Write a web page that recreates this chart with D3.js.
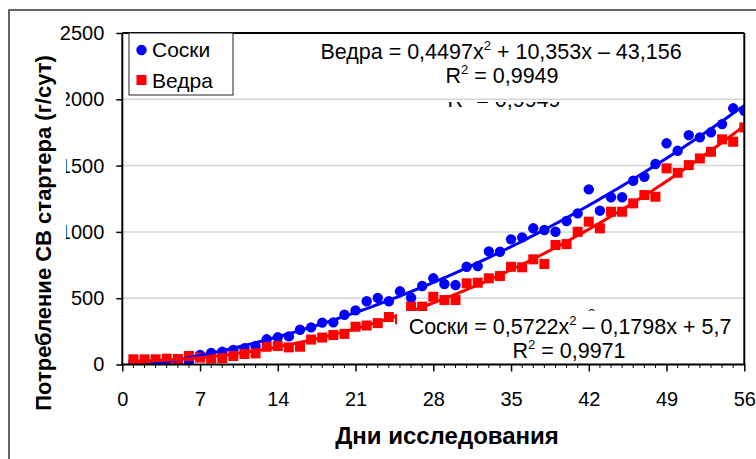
<!DOCTYPE html>
<html>
<head>
<meta charset="utf-8">
<script src="https://cdn.jsdelivr.net/npm/d3@7"></script>
<style>
    body { margin: 0; background: #fff; }
    svg text { font-family: "Liberation Sans", Arial, sans-serif; fill: #000; }
</style>
</head>
<body>
<div id="chart"></div>
<script>
// дни исследования
const days = [1, 2, 3, 4, 5, 6, 7, 8, 9, 10, 11, 12, 13, 14, 15, 16, 17, 18, 19, 20,
    21, 22, 23, 24, 25, 26, 27, 28, 29, 30, 31, 32, 33, 34, 35, 36, 37, 38, 39, 40,
    41, 42, 43, 44, 45, 46, 47, 48, 49, 50, 51, 52, 53, 54, 55, 56];

const soski = [20, 18, 15, 18, 20, 15, 72, 88, 97, 109, 122, 139, 190, 205, 212, 262, 280, 316, 318, 375,
    408, 477, 502, 477, 552, 503, 592, 650, 607, 599, 737, 742, 853, 850, 944, 959, 1027, 1014, 1001, 1082,
    1140, 1321, 1160, 1261, 1261, 1386, 1416, 1512, 1668, 1612, 1730, 1713, 1751, 1813, 1932, 1913];

const vedra = [39, 39, 39, 44, 42, 64, 52, 45, 48, 64, 79, 84, 134, 139, 129, 134, 188, 203, 222, 231,
    285, 294, 312, 358, 341, 436, 436, 511, 486, 486, 612, 617, 650, 667, 737, 733, 793, 758, 901, 908,
    1001, 1077, 1027, 1152, 1152, 1215, 1278, 1265, 1479, 1446, 1504, 1554, 1604, 1698, 1680, 1788];

const yTicks = [0, 500, 1000, 1500, 2000, 2500];
const xTicks = [0, 7, 14, 21, 28, 35, 42, 49, 56];
const gridValues = [500, 1000, 1500, 2000];

const width = 756, height = 459;
const svg = d3.select('#chart').append('svg')
    .attr('width', width)
    .attr('height', height);

const x = d3.scaleLinear().domain([0, 56]).range([122.3, 744.3]);
const y = d3.scaleLinear().domain([0, 2500]).range([364.5, 33]);

// внешняя рамка
svg.append('rect')
    .attr('x', 9).attr('y', 10)
    .attr('width', 820).attr('height', 520)
    .attr('fill', '#fff')
    .attr('stroke', '#333').attr('stroke-width', 1.5);

svg.append('defs').append('clipPath').attr('id', 'plotClip')
    .append('rect')
    .attr('x', x(0)).attr('y', y(2500))
    .attr('width', x(56) - x(0)).attr('height', y(0) - y(2500));

// квадратичный тренд (МНК)
function quadFit(xs, ys) {
    let s0 = 0, s1 = 0, s2 = 0, s3 = 0, s4 = 0, t0 = 0, t1 = 0, t2 = 0;
    xs.forEach((xv, i) => {
        const yv = ys[i];
        s0 += 1; s1 += xv; s2 += xv * xv; s3 += xv ** 3; s4 += xv ** 4;
        t0 += yv; t1 += xv * yv; t2 += xv * xv * yv;
    });
    const det = (m) => m[0][0] * (m[1][1] * m[2][2] - m[1][2] * m[2][1])
        - m[0][1] * (m[1][0] * m[2][2] - m[1][2] * m[2][0])
        + m[0][2] * (m[1][0] * m[2][1] - m[1][1] * m[2][0]);
    const A = [[s4, s3, s2], [s3, s2, s1], [s2, s1, s0]];
    const B = [t2, t1, t0];
    const D = det(A);
    const coef = [0, 1, 2].map(k => det(A.map((row, r) => row.map((v, c) => c === k ? B[r] : v))) / D);
    return d => coef[0] * d * d + coef[1] * d + coef[2];
}

function eqText(g, xc, yb, parts) {
    const t = g.append('text')
        .attr('x', xc).attr('y', yb)
        .attr('text-anchor', 'middle')
        .style('font-size', '21.5px');
    parts.forEach(p => {
        if (typeof p === 'object') {
            t.append('tspan').attr('dy', -9).style('font-size', '13px').text(p.sup);
            t.append('tspan').attr('dy', 9).text(p.after);
        } else {
            t.append('tspan').text(p);
        }
    });
    return t;
}

// перекрытая подпись под блоком Ведра
eqText(svg, 504, 106.5, ['R', { sup: '2', after: ' = 0,9949' }]);
svg.append('rect')
    .attr('x', 233).attr('y', y(2500))
    .attr('width', x(56) - 233).attr('height', 102 - y(2500))
    .attr('fill', '#fff');

// сетка
svg.append('g').selectAll('line')
    .data(gridValues)
    .enter().append('line')
    .attr('x1', x(0)).attr('x2', x(56))
    .attr('y1', d => y(d)).attr('y2', d => y(d))
    .attr('stroke', '#d4d4d4').attr('stroke-width', 1.5);

// оси
const yAxis = svg.append('g')
    .attr('transform', `translate(${x(0)},0)`)
    .call(d3.axisLeft(y).tickValues(yTicks).tickSize(6).tickPadding(12).tickFormat(d3.format('d')));
yAxis.select('.domain').remove();
yAxis.selectAll('line').attr('stroke', '#000').attr('stroke-width', 1.5);
yAxis.selectAll('text').style('font-size', '20px');

const xAxis = svg.append('g')
    .attr('transform', `translate(0,${y(0)})`)
    .call(d3.axisBottom(x).tickValues(xTicks).tickSize(7).tickPadding(20));
xAxis.select('.domain').remove();
xAxis.selectAll('line').attr('stroke', '#000').attr('stroke-width', 1.5);
xAxis.selectAll('text').style('font-size', '20px');

// малые деления
svg.append('g').selectAll('line')
    .data(days.filter(d => d % 7 !== 0))
    .enter().append('line')
    .attr('x1', d => x(d)).attr('x2', d => x(d))
    .attr('y1', y(0)).attr('y2', y(0) + 3.5)
    .attr('stroke', '#000').attr('stroke-width', 1);

// данные
const dataG = svg.append('g').attr('clip-path', 'url(#plotClip)');
const fitS = quadFit(days, soski);
const fitV = quadFit(days, vedra);

dataG.append('g').selectAll('circle')
    .data(days)
    .enter().append('circle')
    .attr('cx', d => x(d))
    .attr('cy', (d, i) => y(soski[i]))
    .attr('r', 5.2)
    .attr('fill', '#0000ff');

dataG.append('g').selectAll('rect')
    .data(days)
    .enter().append('rect')
    .attr('x', d => x(d) - 5)
    .attr('y', (d, i) => y(vedra[i]) - 5)
    .attr('width', 10).attr('height', 10)
    .attr('fill', '#ff0000');

const fineDays = d3.range(1, 56.01, 0.25);
const trend = (f) => d3.line().x(d => x(d)).y(d => y(f(d)));
dataG.append('path')
    .attr('d', trend(fitS)(fineDays))
    .attr('fill', 'none').attr('stroke', '#0000ff').attr('stroke-width', 3);
dataG.append('path')
    .attr('d', trend(fitV)(fineDays))
    .attr('fill', 'none').attr('stroke', '#ff0000').attr('stroke-width', 3);

// подписи тренда Соски (с перекрытием)
svg.append('text')
    .attr('x', 588).attr('y', 318)
    .style('font-size', '13px')
    .text('2');
svg.append('rect')
    .attr('x', 397).attr('y', 311)
    .attr('width', x(56) - 397).attr('height', y(0) - 311)
    .attr('fill', '#fff');

eqText(svg, 570, 334, ['Соски = 0,5722x', { sup: '2', after: ' – 0,1798x + 5,7' }]);
eqText(svg, 569, 358, ['R', { sup: '2', after: ' = 0,9971' }]);

eqText(svg, 501, 59, ['Ведра = 0,4497x', { sup: '2', after: ' + 10,353x – 43,156' }]);
eqText(svg, 502, 83, ['R', { sup: '2', after: ' = 0,9949' }]);

// рамка области построения
const frame = svg.append('g').attr('stroke', '#000').attr('stroke-width', 2);
frame.append('line').attr('x1', x(0)).attr('x2', x(56)).attr('y1', y(2500)).attr('y2', y(2500));
frame.append('line').attr('x1', x(56)).attr('x2', x(56)).attr('y1', y(2500)).attr('y2', y(0));
frame.append('line').attr('x1', x(0)).attr('x2', x(0)).attr('y1', y(2500)).attr('y2', y(0) + 1);
frame.append('line').attr('x1', x(0) - 1).attr('x2', x(56) + 1).attr('y1', y(0)).attr('y2', y(0));

// легенда
const legend = svg.append('g');
legend.append('rect')
    .attr('x', 129).attr('y', 33)
    .attr('width', 104).attr('height', 62)
    .attr('fill', '#fff').attr('stroke', '#222').attr('stroke-width', 1);
legend.append('circle').attr('cx', 141.5).attr('cy', 50).attr('r', 5.2).attr('fill', '#0000ff');
legend.append('text').attr('x', 152).attr('y', 57).style('font-size', '21px').text('Соски');
legend.append('rect').attr('x', 136.5).attr('y', 75).attr('width', 10).attr('height', 10).attr('fill', '#ff0000');
legend.append('text').attr('x', 152).attr('y', 87.5).style('font-size', '21px').text('Ведра');

// подписи осей
svg.append('rect')
    .attr('x', 10).attr('y', 50)
    .attr('width', 56).attr('height', 370)
    .attr('fill', '#fff');
svg.append('text')
    .attr('transform', 'translate(51,233) rotate(-90)')
    .attr('text-anchor', 'middle')
    .style('font-size', '22px').style('font-weight', 'bold')
    .text('Потребление СВ стартера (г/сут)');

svg.append('text')
    .attr('x', 447).attr('y', 444)
    .attr('text-anchor', 'middle')
    .style('font-size', '24px').style('font-weight', 'bold')
    .text('Дни исследования');
</script>
</body>
</html>
